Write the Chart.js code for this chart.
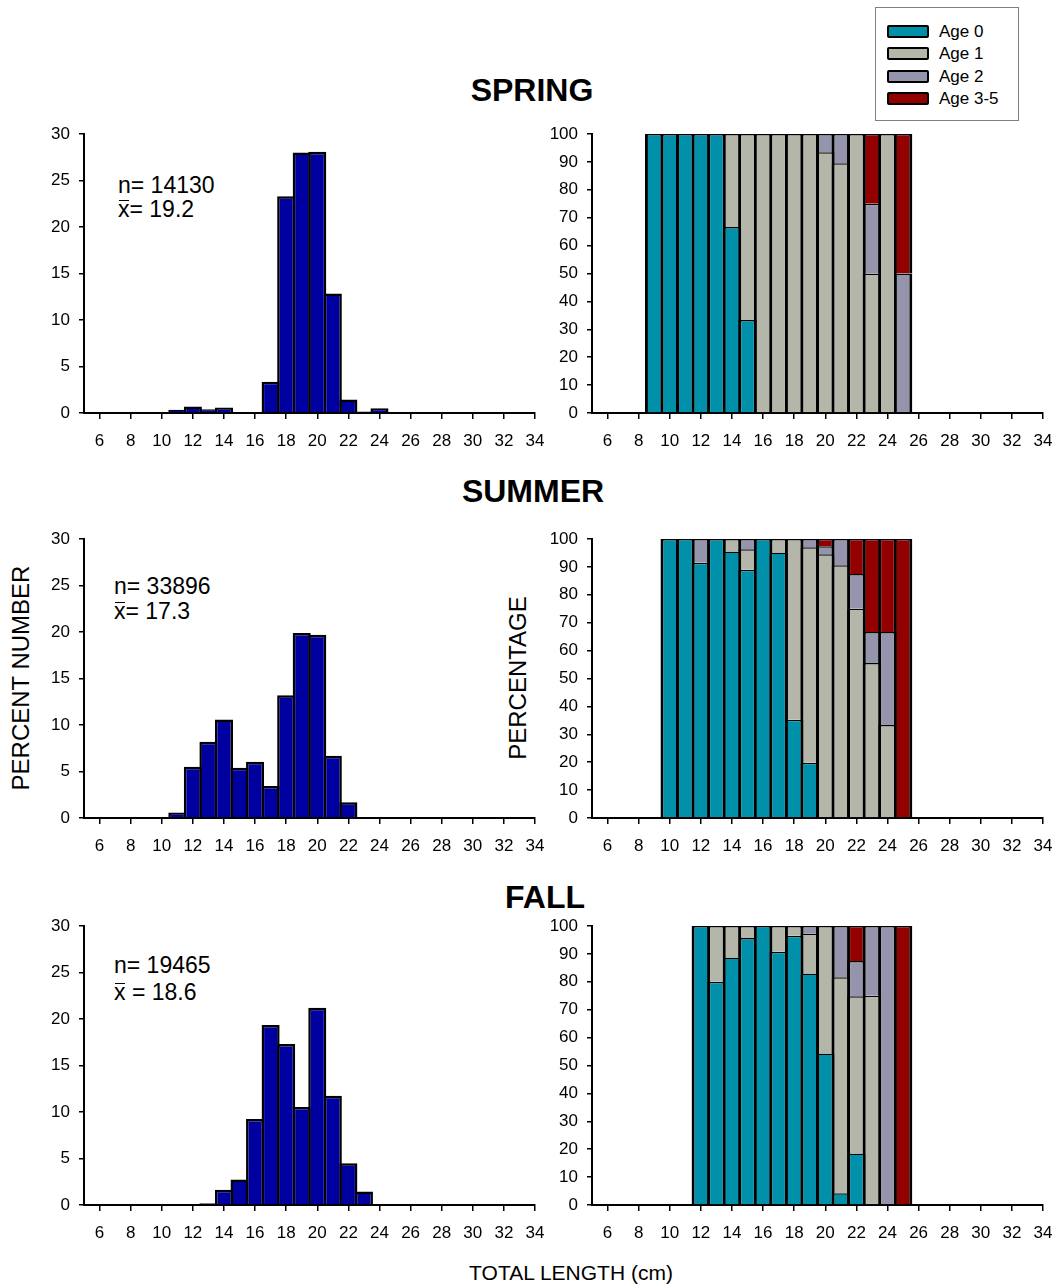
<!DOCTYPE html>
<html>
<head>
<meta charset="utf-8">
<script src="https://cdn.jsdelivr.net/npm/chart.js@4.4.1/dist/chart.umd.min.js"></script>
<style>
  html, body { margin: 0; padding: 0; background: #fff; }
  body { width: 1060px; height: 1285px; position: relative; overflow: hidden;
         font-family: "Liberation Sans", Arial, sans-serif; color: #000; }
  canvas { position: absolute; }
  .title { position: absolute; font-weight: bold; font-size: 32px; line-height: 1; white-space: nowrap;
           transform: translateX(-50%); }
  .note { position: absolute; font-size: 23px; line-height: 1; white-space: nowrap; }
  .xbar { position: relative; }
  .xbar::before { content: ''; position: absolute; left: 1px; right: 1px; top: 4px;
                  border-top: 1.5px solid #000; }
  .vlabel { position: absolute; font-size: 24px; line-height: 1; white-space: nowrap;
            transform: translate(-50%, -50%) rotate(-90deg); }
  #xlabel { position: absolute; left: 571px; top: 1262px; font-size: 21px; line-height: 1;
            transform: translateX(-50%); white-space: nowrap; }
  #legend { position: absolute; left: 875px; top: 7px; width: 144px; height: 114px;
            border: 1px solid #808080; box-sizing: border-box; }
  .lg-row { position: absolute; left: 11px; height: 20px; display: flex; align-items: center; }
  .lg-sw { width: 38px; height: 9px; border: 2px solid #000; border-radius: 2px; margin-right: 10px; }
  .lg-tx { font-size: 17px; line-height: 1; }
</style>
</head>
<body>

<div id="legend"></div>

<div class="title" style="left:532px; top:74px;">SPRING</div>
<div class="title" style="left:533px; top:475px;">SUMMER</div>
<div class="title" style="left:545px; top:881px;">FALL</div>

<div class="note" style="left:118px; top:174px;">n= 14130</div>
<div class="note" style="left:118px; top:198px;"><span class="xbar">x</span>= 19.2</div>
<div class="note" style="left:114px; top:575px;">n= 33896</div>
<div class="note" style="left:114px; top:600px;"><span class="xbar">x</span>= 17.3</div>
<div class="note" style="left:114px; top:954px;">n= 19465</div>
<div class="note" style="left:114px; top:981px;"><span class="xbar">x</span> = 18.6</div>

<div class="vlabel" style="left:21px; top:678px;">PERCENT NUMBER</div>
<div class="vlabel" style="left:518px; top:678px;">PERCENTAGE</div>
<div id="xlabel">TOTAL LENGTH (cm)</div>

<canvas id="springHist" width="550" height="329" style="left:0px; top:120px;"></canvas>
<canvas id="springAge" width="520" height="329" style="left:540px; top:120px;"></canvas>
<canvas id="summerHist" width="550" height="329" style="left:0px; top:525px;"></canvas>
<canvas id="summerAge" width="520" height="329" style="left:540px; top:525px;"></canvas>
<canvas id="fallHist" width="550" height="329" style="left:0px; top:912px;"></canvas>
<canvas id="fallAge" width="520" height="329" style="left:540px; top:912px;"></canvas>

<script>
// x categories: total length (cm), axis runs 5..34
const LENGTHS = [5, 6, 7, 8, 9, 10, 11, 12, 13, 14, 15, 16, 17, 18, 19, 20,
                 21, 22, 23, 24, 25, 26, 27, 28, 29, 30, 31, 32, 33, 34];

// length-frequency (percent number)
const SPRING_LEN = [11, 12, 13, 14, 15, 16, 17, 18, 19, 20, 21, 22, 23, 24];
const SPRING_PCT = [0.35, 0.7, 0.4, 0.6, 0, 0.1, 3.35, 23.3, 28.0, 28.1, 12.85, 1.45, 0.15, 0.5];
const SUMMER_LEN = [11, 12, 13, 14, 15, 16, 17, 18, 19, 20, 21, 22];
const SUMMER_PCT = [0.6, 5.5, 8.2, 10.6, 5.4, 6.05, 3.45, 13.2, 19.9, 19.7, 6.7, 1.7];
const FALL_LEN = [13, 14, 15, 16, 17, 18, 19, 20, 21, 22, 23];
const FALL_PCT = [0.2, 1.65, 2.75, 9.25, 19.35, 17.3, 10.55, 21.2, 11.75, 4.5, 1.45];

// age composition (percentage) per length
const AGE_NAMES = ['Age 0', 'Age 1', 'Age 2', 'Age 3-5'];
const AGE_COLORS = ['#0090AA', '#B5B6AA', '#9494AD', '#920000'];
const HIST_COLOR = '#0000A0';

const SPRING_AGE_LEN = [9, 10, 11, 12, 13, 14, 15, 16, 17, 18, 19, 20, 21, 22, 23, 24, 25];
const SPRING_AGE0 = [100, 100, 100, 100, 100, 66.7, 33.3, 0, 0, 0, 0, 0, 0, 0, 0, 0, 0];
const SPRING_AGE1 = [0, 0, 0, 0, 0, 33.3, 66.7, 100, 100, 100, 100, 93.5, 89.5, 100, 50, 100, 0];
const SPRING_AGE2 = [0, 0, 0, 0, 0, 0, 0, 0, 0, 0, 0, 6.5, 10.5, 0, 25, 0, 50];
const SPRING_AGE3 = [0, 0, 0, 0, 0, 0, 0, 0, 0, 0, 0, 0, 0, 0, 25, 0, 50];

const SUMMER_AGE_LEN = [10, 11, 12, 13, 14, 15, 16, 17, 18, 19, 20, 21, 22, 23, 24, 25];
const SUMMER_AGE0 = [100, 100, 91.5, 100, 95.5, 89, 100, 95.2, 35.2, 19.8, 0, 0, 0, 0, 0, 0];
const SUMMER_AGE1 = [0, 0, 0, 0, 4.5, 7.3, 0, 4.8, 64.8, 77.2, 94.5, 90.6, 75, 55.6, 33.3, 0];
const SUMMER_AGE2 = [0, 0, 8.5, 0, 0, 3.7, 0, 0, 0, 3, 2.9, 9.4, 12.5, 11.1, 33.4, 0];
const SUMMER_AGE3 = [0, 0, 0, 0, 0, 0, 0, 0, 0, 0, 2.6, 0, 12.5, 33.3, 33.3, 100];

const FALL_AGE_LEN = [12, 13, 14, 15, 16, 17, 18, 19, 20, 21, 22, 23, 24, 25];
const FALL_AGE0 = [100, 80, 88.7, 95.7, 100, 90.8, 96.5, 83, 54.3, 4.2, 18.5, 0, 0, 0];
const FALL_AGE1 = [0, 20, 11.3, 4.3, 0, 9.2, 3.5, 14.3, 45.7, 77.4, 56.3, 75, 0, 0];
const FALL_AGE2 = [0, 0, 0, 0, 0, 0, 0, 2.7, 0, 18.4, 12.7, 25, 100, 0];
const FALL_AGE3 = [0, 0, 0, 0, 0, 0, 0, 0, 0, 0, 12.5, 0, 0, 100];

const FONT_FAMILY = '"Liberation Sans", Arial, sans-serif';
const TICK_FONT = { family: FONT_FAMILY, size: 17 };
const CAT_PX = 451 / 29; // width of one length class on the axis

// spread a season's values over the full length axis (null = no bar)
function spread(lens, vals) {
    return LENGTHS.map(l => {
        const i = lens.indexOf(l);
        return i < 0 || !vals[i] ? null : vals[i];
    });
}

function xScale() {
    return {
        type: 'category',
        offset: false,
        stacked: true,
        z: 1,
        grid: {
            offset: false,
            drawOnChartArea: false,
            drawTicks: true,
            tickLength: 6,
            lineWidth: 1.5,
            color: ctx => (LENGTHS[ctx.index] % 2 === 0 ? '#000' : 'rgba(0,0,0,0)')
        },
        border: { display: true, color: '#000', width: 2 },
        ticks: {
            autoSkip: false,
            maxRotation: 0,
            padding: 12,
            color: '#000',
            font: TICK_FONT,
            callback: (v, i) => (LENGTHS[i] % 2 === 0 ? String(LENGTHS[i]) : '')
        },
        afterFit: s => {
            s.height = 36;
            s.paddingLeft = 0;
            s.paddingRight = 0;
        }
    };
}

function yScale(max, step, width) {
    return {
        min: 0,
        max: max,
        stacked: true,
        grid: { drawOnChartArea: false, tickLength: 5, lineWidth: 1.5, color: '#000' },
        border: { display: true, color: '#000', width: 2 },
        ticks: { stepSize: step, padding: 9, color: '#000', font: TICK_FONT },
        afterFit: s => {
            s.width = width;
            s.paddingTop = 0;
            s.paddingBottom = 0;
        }
    };
}

// bars overlap by one border width so neighbours share a single outline
function barStyle(color, side, top) {
    return {
        backgroundColor: color,
        borderColor: '#000',
        borderWidth: { top: top, left: side, right: side, bottom: 0 },
        barPercentage: 1 + side / CAT_PX,
        categoryPercentage: 1,
        inflateAmount: 0
    };
}

function makeHist(canvasId, lens, vals) {
    return new Chart(document.getElementById(canvasId), {
        type: 'bar',
        data: {
            labels: LENGTHS.map(String),
            datasets: [Object.assign({ data: spread(lens, vals) }, barStyle(HIST_COLOR, 2.5, 2.5))]
        },
        options: {
            responsive: false,
            animation: false,
            layout: { padding: { top: 14, right: 15, bottom: 0, left: 0 } },
            plugins: { legend: { display: false }, tooltip: { enabled: false } },
            scales: { x: xScale(), y: yScale(30, 5, 84) }
        }
    });
}

function makeAge(canvasId, lens, ages) {
    return new Chart(document.getElementById(canvasId), {
        type: 'bar',
        data: {
            labels: LENGTHS.map(String),
            datasets: ages.map((a, k) => Object.assign({
                label: AGE_NAMES[k],
                data: spread(lens, a)
            }, barStyle(AGE_COLORS[k], 3, 1.5)))
        },
        options: {
            responsive: false,
            animation: false,
            layout: { padding: { top: 14, right: 17, bottom: 0, left: 0 } },
            plugins: { legend: { display: false }, tooltip: { enabled: false } },
            scales: { x: xScale(), y: yScale(100, 10, 52) }
        }
    });
}

makeHist('springHist', SPRING_LEN, SPRING_PCT);
makeHist('summerHist', SUMMER_LEN, SUMMER_PCT);
makeHist('fallHist', FALL_LEN, FALL_PCT);

makeAge('springAge', SPRING_AGE_LEN, [SPRING_AGE0, SPRING_AGE1, SPRING_AGE2, SPRING_AGE3]);
makeAge('summerAge', SUMMER_AGE_LEN, [SUMMER_AGE0, SUMMER_AGE1, SUMMER_AGE2, SUMMER_AGE3]);
makeAge('fallAge', FALL_AGE_LEN, [FALL_AGE0, FALL_AGE1, FALL_AGE2, FALL_AGE3]);

// legend box
const legend = document.getElementById('legend');
AGE_NAMES.forEach((name, i) => {
    const row = document.createElement('div');
    row.className = 'lg-row';
    row.style.top = (13 + i * 22.5) + 'px';
    row.innerHTML = `<div class="lg-sw" style="background:${AGE_COLORS[i]}"></div><span class="lg-tx">${name}</span>`;
    legend.appendChild(row);
});
</script>
</body>
</html>
